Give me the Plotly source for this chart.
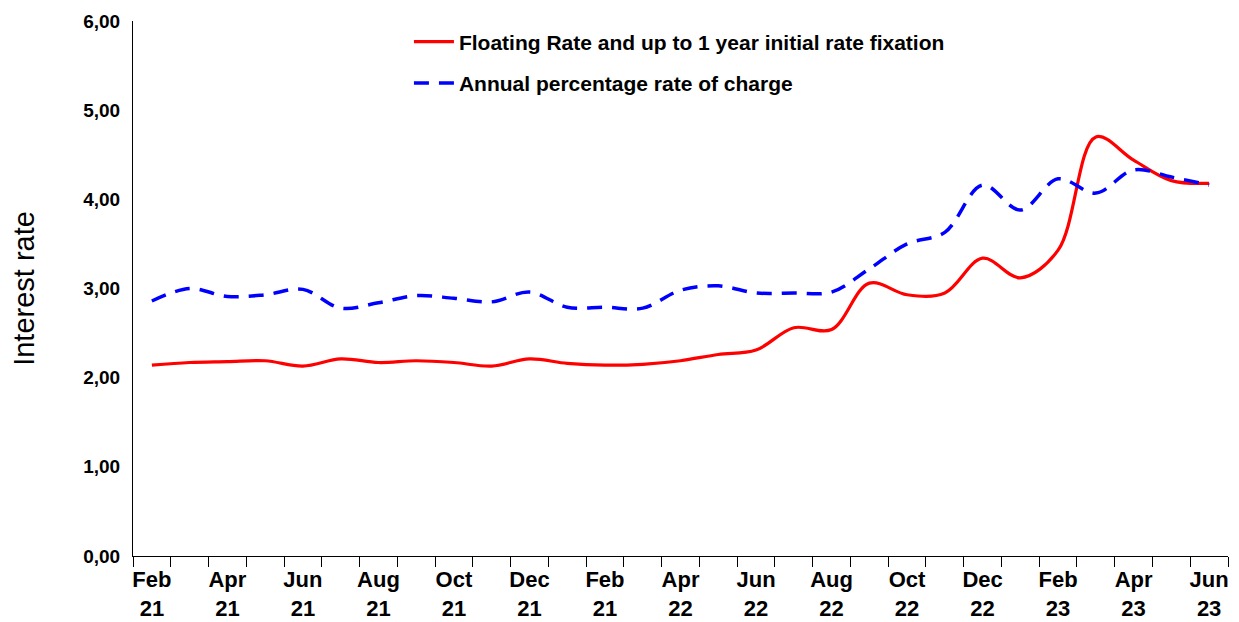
import plotly.graph_objects as go

months = ["Feb 21", "Mar 21", "Apr 21", "May 21", "Jun 21", "Jul 21", "Aug 21", "Sep 21",
          "Oct 21", "Nov 21", "Dec 21", "Jan 22", "Feb 22", "Mar 22", "Apr 22", "May 22",
          "Jun 22", "Jul 22", "Aug 22", "Sep 22", "Oct 22", "Nov 22", "Dec 22", "Jan 23",
          "Feb 23", "Mar 23", "Apr 23", "May 23", "Jun 23"]

floating_rate = [2.14, 2.17, 2.18, 2.19, 2.13, 2.21, 2.17, 2.19, 2.17, 2.13, 2.21, 2.16,
                 2.14, 2.15, 2.19, 2.26, 2.31, 2.56, 2.54, 3.06, 2.93, 2.95, 3.34, 3.12,
                 3.43, 4.70, 4.44, 4.21, 4.18]

aprc = [2.86, 3.00, 2.91, 2.93, 2.99, 2.78, 2.84, 2.92, 2.89, 2.85, 2.96, 2.79,
        2.79, 2.78, 2.98, 3.03, 2.95, 2.95, 2.96, 3.22, 3.50, 3.63, 4.16, 3.88,
        4.23, 4.07, 4.33, 4.25, 4.16]

tick_labels = ["Feb<br>21", "Apr<br>21", "Jun<br>21", "Aug<br>21", "Oct<br>21", "Dec<br>21",
               "Feb<br>21", "Apr<br>22", "Jun<br>22", "Aug<br>22", "Oct<br>22", "Dec<br>22",
               "Feb<br>23", "Apr<br>23", "Jun<br>23"]

x_idx = list(range(len(months)))
tick_pos = x_idx[::2]

FONT = "Arial, Liberation Sans, sans-serif"

fig = go.Figure()
fig.add_trace(go.Scatter(
    x=x_idx, y=floating_rate, mode="lines", name="Floating Rate and up to 1 year initial rate fixation",
    line=dict(color="#ff0000", width=3.2, shape="spline", smoothing=1), legendgroup="a",
    text=months, hoverinfo="text+y"))
fig.add_trace(go.Scatter(
    x=x_idx, y=aprc, mode="lines", name="Annual percentage rate of charge",
    line=dict(color="#0000ff", width=3.5, shape="spline", smoothing=1, dash="15px,10px"),
    legendgroup="b", text=months, hoverinfo="text+y"))

fig.update_layout(
    width=1231, height=614,
    margin=dict(l=125, r=11, t=13, b=66),
    paper_bgcolor="white", plot_bgcolor="white",
    separators=",.",
    font=dict(family=FONT, color="black"),
    showlegend=True,
    legend=dict(x=0.252, y=0.999, xanchor="left", yanchor="top",
                font=dict(family=FONT, size=21, color="black", weight="bold"),
                tracegroupgap=11, bgcolor="rgba(0,0,0,0)", itemwidth=40),
)
fig.update_xaxes(
    range=[-0.5, len(months) - 0.5], automargin=False,
    tickmode="array", tickvals=tick_pos, ticktext=tick_labels,
    ticks="", showgrid=False, zeroline=False, ticklabelstandoff=4,
    showline=True, linecolor="black", linewidth=1,
    tickfont=dict(family=FONT, size=22, color="black", weight="bold"),
    minor=dict(ticks="outside", tick0=-0.5, dtick=1, ticklen=10, tickcolor="black", tickwidth=1, showgrid=False),
)
fig.update_yaxes(
    range=[0, 6], tickmode="linear", tick0=0, dtick=1, tickformat=".2f", automargin=False,
    showgrid=False, zeroline=False, showline=True, linecolor="black", linewidth=1,
    ticks="", ticklabelstandoff=8,
    tickfont=dict(family=FONT, size=19, color="black", weight="bold"),
    title=dict(text="Interest rate", font=dict(family=FONT, size=29, color="black"), standoff=42),
)

fig.write_html("out.html")
